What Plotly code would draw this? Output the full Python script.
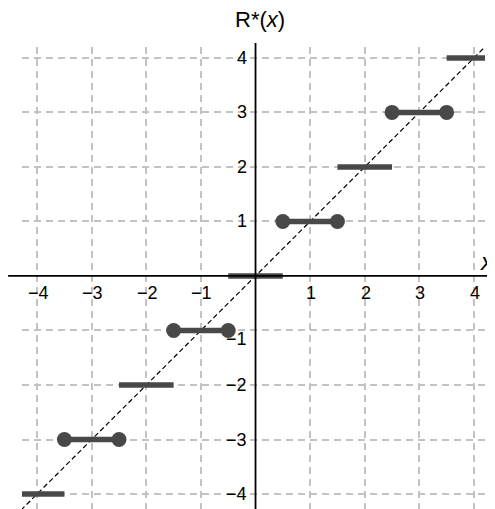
import plotly.graph_objects as go

# ---- data ----
levels = [-4, -3, -2, -1, 0, 1, 2, 3, 4]
seg_start = [-4.3, -3.5, -2.5, -1.5, -0.5, 0.5, 1.5, 2.5, 3.5]
seg_end = [-3.5, -2.5, -1.5, -0.5, 0.5, 1.5, 2.5, 3.5, 4.3]
closed_levels = [-3, -1, 1, 3]          # segments drawn with closed dots at both ends
x_ticks = [-4, -3, -2, -1, 1, 2, 3, 4]
y_ticks = [-4, -3, -2, -1, 1, 2, 3, 4]
diag_x = [-4.4, 4.4]

BAR = "#484848"
FONT = "Liberation Sans, Arial, Helvetica, sans-serif"

fig = go.Figure()

# diagonal y = x
fig.add_trace(go.Scatter(x=diag_x, y=diag_x, mode="lines",
                         line=dict(color="black", width=1.2, dash="5px,3px"),
                         hoverinfo="skip", showlegend=False))

# step segments
for lv, a, b in zip(levels, seg_start, seg_end):
    fig.add_trace(go.Scatter(x=[a, b], y=[lv, lv], mode="lines",
                             line=dict(color=BAR, width=5.5),
                             showlegend=False))

# closed dots
dx, dy = [], []
for lv, a, b in zip(levels, seg_start, seg_end):
    if lv in closed_levels:
        dx += [a, b]
        dy += [lv, lv]
fig.add_trace(go.Scatter(x=dx, y=dy, mode="markers",
                         marker=dict(color=BAR, size=15, line=dict(width=0)),
                         showlegend=False))

# axis lines through the origin (extend slightly past the grid)
fig.add_shape(type="line", xref="paper", yref="y", x0=-0.03, x1=1.03, y0=0, y1=0,
              line=dict(color="black", width=1.8), layer="above")
fig.add_shape(type="line", xref="x", yref="paper", x0=0, x1=0, y0=-0.01, y1=1.0087,
              line=dict(color="black", width=1.8), layer="above")

annotations = []
for v in x_ticks:
    annotations.append(dict(x=v, y=0, xref="x", yref="y", text=f"{v}".replace("-", "\u2212"),
                            showarrow=False, yshift=-17, xshift=1,
                            font=dict(size=18, color="black", family=FONT)))
for v in y_ticks:
    annotations.append(dict(x=0, y=v, xref="x", yref="y", text=f"{v}".replace("-", "\u2212"),
                            showarrow=False, xanchor="right", xshift=-7,
                            yshift=-9 if v == -1 else 0,
                            font=dict(size=18, color="black", family=FONT)))
annotations.append(dict(x=0, y=1, xref="x", yref="paper", text="R*(<i>x</i>)",
                        showarrow=False, xanchor="center", yanchor="middle",
                        yshift=28, xshift=4,
                        font=dict(size=22, color="black", family=FONT)))
annotations.append(dict(x=1, y=0, xref="paper", yref="y", text="<i>x</i>",
                        showarrow=False, xanchor="center", yanchor="middle",
                        yshift=14, xshift=2,
                        font=dict(size=24, color="black", family=FONT)))

grid = dict(showgrid=True, gridcolor="#c2c2c2", gridwidth=1.5, griddash="7px,5px",
            zeroline=False, showline=False, showticklabels=False, ticks="")

fig.update_xaxes(range=[-4.277, 4.203], tickvals=x_ticks, **grid)
fig.update_yaxes(range=[-4.275, 4.20], tickvals=y_ticks, **grid)

fig.update_layout(width=487, height=501,
                  margin=dict(l=14, r=10, t=39, b=0, pad=0),
                  plot_bgcolor="white", paper_bgcolor="white",
                  annotations=annotations, showlegend=False,
                  font=dict(family=FONT))

fig.write_html("out.html")
